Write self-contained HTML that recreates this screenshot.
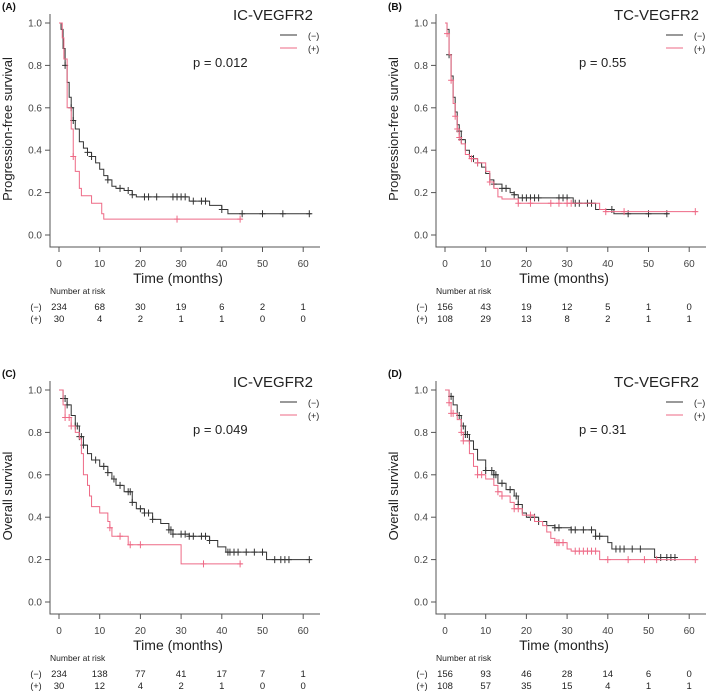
<!DOCTYPE html>
<html><head><meta charset="utf-8"><style>
html,body{margin:0;padding:0;background:#fff;}
svg{display:block;font-family:"Liberation Sans",Arial,sans-serif;}
</style></head><body>
<svg id="fig" width="709" height="694" viewBox="0 0 709 694" xmlns="http://www.w3.org/2000/svg"></svg>
<script>
// Panel A: PFS, IC-VEGFR2
const aNegT=[0,0.5,1,1.5,2,2.5,3,3.5,4,5,6,7,8,9,10,11,12,13,14,16,18,19,32,33,37,40,41.5,62];
const aNegS=[1,0.97,0.88,0.8,0.72,0.65,0.6,0.54,0.5,0.44,0.41,0.39,0.37,0.34,0.31,0.28,0.26,0.23,0.22,0.21,0.19,0.18,0.16,0.16,0.14,0.12,0.1,0.1];
const aNegC=[1.5,3,3.5,7,8,12,15,17,18,21,22,24,28,29,30,31,33,35,36,40,45,50,55,61.5];
const aPosT=[0,0.8,1.2,2,3,3.5,4,5,5.5,8,10.5,11,45];
const aPosS=[1,0.93,0.83,0.6,0.5,0.37,0.3,0.22,0.185,0.15,0.1,0.075,0.075];
const aPosC=[3.5,29,44.5];
const aRiskNeg=["234","68","30","19","6","2","1"];
const aRiskPos=["30","4","2","1","1","0","0"];
// Panel B: PFS, TC-VEGFR2
const bNegT=[0,0.5,1,1.5,2,2.5,3,3.5,4,5,6,7,8,9,10,11,12,14,16,17,18,31.5,37,41.5,55];
const bNegS=[1,0.97,0.85,0.75,0.65,0.58,0.52,0.49,0.45,0.4,0.37,0.36,0.34,0.32,0.29,0.26,0.24,0.22,0.2,0.19,0.175,0.15,0.12,0.1,0.1];
const bNegC=[1,3.5,4,7,8,12,14,15,17,19,20,21,22,23,28,29,30,32,33,35,36,41,45,50,54.5];
const bPosT=[0,0.5,1,1.5,2,2.5,3,3.5,4,5,6,8,10,11,12,13,14,18,38,39.5,62];
const bPosS=[1,0.95,0.85,0.73,0.62,0.56,0.5,0.46,0.43,0.38,0.36,0.34,0.3,0.25,0.22,0.18,0.17,0.15,0.12,0.11,0.11];
const bPosC=[0.5,1.5,2.5,3,3.5,6.5,8,11,18,21,26,28,30,31,39.5,44,61.5];
const bRiskNeg=["156","43","19","12","5","1","0"];
const bRiskPos=["108","29","13","8","2","1","1"];
// Panel C: OS, IC-VEGFR2
const cNegT=[0,1,2,3,4,5,6,7,8,10,12,13,14,16,18,19,21,23,25,27,28,32,37,39,41,51,62];
const cNegS=[1,0.96,0.93,0.88,0.83,0.78,0.74,0.7,0.67,0.64,0.61,0.58,0.55,0.52,0.47,0.44,0.42,0.39,0.37,0.34,0.32,0.31,0.29,0.26,0.235,0.2,0.2];
const cNegC=[1,1.5,2,4,4.5,5,5.5,6,9,11,12,13.5,15,17,17.5,18,20,21,22,23,27,27.5,28,30,31,32,33,35,36,37,41.5,42,43,44,46,48,50,53,54.5,55.5,56.5,61.5];
const cPosT=[0,1,1.5,3,4,5,5.5,6,7,7.5,8,10,12,12.5,13,17,30,45];
const cPosS=[1,0.93,0.87,0.83,0.8,0.77,0.7,0.6,0.55,0.5,0.45,0.42,0.38,0.35,0.31,0.27,0.18,0.18];
const cPosC=[1.5,2.5,3,12.5,15,17.5,20,35.5,44.5];
const cRiskNeg=["234","138","77","41","17","7","1"];
const cRiskPos=["30","12","4","2","1","0","0"];
// Panel D: OS, TC-VEGFR2
const dNegT=[0,1,2,3,4,5,6,7,8,10,12,13,15,17,18,19,20,23,25,27,31,37,40,41,51.5,57];
const dNegS=[1,0.97,0.93,0.88,0.83,0.79,0.76,0.72,0.67,0.62,0.6,0.56,0.53,0.5,0.46,0.42,0.4,0.38,0.36,0.35,0.34,0.31,0.28,0.25,0.21,0.21];
const dNegC=[1.5,3.5,4.5,5,5.5,6,10,11.5,12,12.5,14,16,17.5,18,21,22,23,27,28,31,32,34,36,37,38,42,43,44,46,48,53,54.5,55.5,56.5];
const dPosT=[0,1,1.5,3,4,4.5,6,7,8,10,12,13,14,16,17,19,22,24,25,26,27,30,31,38,62];
const dPosS=[1,0.94,0.89,0.86,0.8,0.76,0.7,0.64,0.6,0.58,0.55,0.52,0.5,0.47,0.44,0.41,0.38,0.36,0.33,0.3,0.28,0.25,0.24,0.2,0.2];
const dPosC=[1,1.5,2,4,4.5,8,9,13,14,17,18,21,27.5,28,29,32,33,34,35,36,37,40,45,49,52,61.5];
const dRiskNeg=["156","93","46","28","14","6","0"];
const dRiskPos=["108","57","35","15","4","1","1"];

const yTicks=["0.0","0.2","0.4","0.6","0.8","1.0"];
const xTicks=["0","10","20","30","40","50","60"];

const NS="http://www.w3.org/2000/svg";
const svg=document.getElementById('fig');
const GREY="#333333", PINK="#ee6a86";
function mk(tag,attrs,parent,text){
  const e=document.createElementNS(NS,tag);
  for(const k in attrs)e.setAttribute(k,attrs[k]);
  if(text!==undefined)e.textContent=text;
  parent.appendChild(e);return e;
}
function panel(id,ox,oy,label,title,ytitle,pval,negT,negS,negC,posT,posS,posC,rNeg,rPos){
  const g=mk('g',{transform:`translate(${ox},${oy})`},svg);
  
  
  const xs=t=>59+t*4.07, ys=s=>235-s*212;
  let e;
  e=mk('text',{x:2,y:10,'font-size':10,'font-weight':'bold',fill:'#111'},g,label);
  
  e=mk('path',{d:'M50,14V247H320',stroke:'#555',fill:'none','stroke-width':1},g);
  
  yTicks.forEach((l,i)=>{const y=ys(i*0.2);
    mk('line',{x1:45,x2:50,y1:y,y2:y,stroke:'#555'},g);
    e=mk('text',{x:42,y:y+3.5,'font-size':10,'text-anchor':'end',fill:'#444'},g,l);
    });
  xTicks.forEach((l,i)=>{const x=xs(i*10);
    mk('line',{x1:x,x2:x,y1:247,y2:252,stroke:'#555'},g);
    e=mk('text',{x:x,y:267,'font-size':10,'text-anchor':'middle',fill:'#444'},g,l);
    });
  e=mk('text',{x:12,y:129,'font-size':13,'text-anchor':'middle',fill:'#222',transform:'rotate(-90 12 129)'},g,ytitle);
  
  e=mk('text',{x:178,y:283,'font-size':14,'text-anchor':'middle',fill:'#222'},g,'Time (months)');
  
  e=mk('text',{x:313,y:20,'font-size':15,'text-anchor':'end',fill:'#222'},g,title);
  
  e=mk('text',{x:193,y:67,'font-size':13,fill:'#222'},g,pval);
  
  mk('line',{x1:280,x2:297,y1:35,y2:35,stroke:GREY,'stroke-width':1},g);
  mk('line',{x1:280,x2:297,y1:48,y2:48,stroke:PINK,'stroke-width':1},g);
  e=mk('text',{x:308,y:39,'font-size':9,fill:'#222'},g,'(−)');
  
  e=mk('text',{x:308,y:52,'font-size':9,fill:'#222'},g,'(+)');
  
  function curve(T,S,C,col,name){
    let d=`M${xs(T[0])},${ys(S[0])}`;
    for(let i=1;i<T.length;i++){d+=`H${xs(T[i])}V${ys(S[i])}`;}
    const p=mk('path',{d:d,stroke:col,fill:'none','stroke-width':1},g);
    
    
    C.forEach(t=>{let s=S[0];for(let i=0;i<T.length;i++){if(T[i]<=t)s=S[i];}
      const x=xs(t),y=ys(s);
      const c=mk('path',{d:`M${x-3},${y}H${x+3}M${x},${y-3.5}V${y+3.5}`,stroke:col,'stroke-width':1},g);
      
      });
  }
  curve(negT,negS,negC,GREY,'negative');
  curve(posT,posS,posC,PINK,'positive');
  e=mk('text',{x:50,y:294,'font-size':8.5,fill:'#222'},g,'Number at risk');
  
  e=mk('text',{x:36,y:310,'font-size':9,'text-anchor':'middle',fill:'#222'},g,'(−)');
  
  e=mk('text',{x:36,y:322,'font-size':9,'text-anchor':'middle',fill:'#222'},g,'(+)');
  
  rNeg.forEach((v,i)=>{e=mk('text',{x:xs(i*10),y:310,'font-size':9.5,'text-anchor':'middle',fill:'#222'},g,v);
    });
  rPos.forEach((v,i)=>{e=mk('text',{x:xs(i*10),y:322,'font-size':9.5,'text-anchor':'middle',fill:'#222'},g,v);
    });
}
panel('a',0,0,'(A)','IC-VEGFR2','Progression-free survival','p = 0.012',aNegT,aNegS,aNegC,aPosT,aPosS,aPosC,aRiskNeg,aRiskPos);
panel('b',386,0,'(B)','TC-VEGFR2','Progression-free survival','p = 0.55',bNegT,bNegS,bNegC,bPosT,bPosS,bPosC,bRiskNeg,bRiskPos);
panel('c',0,367,'(C)','IC-VEGFR2','Overall survival','p = 0.049',cNegT,cNegS,cNegC,cPosT,cPosS,cPosC,cRiskNeg,cRiskPos);
panel('d',386,367,'(D)','TC-VEGFR2','Overall survival','p = 0.31',dNegT,dNegS,dNegC,dPosT,dPosS,dPosC,dRiskNeg,dRiskPos);
</script>
</body></html>
